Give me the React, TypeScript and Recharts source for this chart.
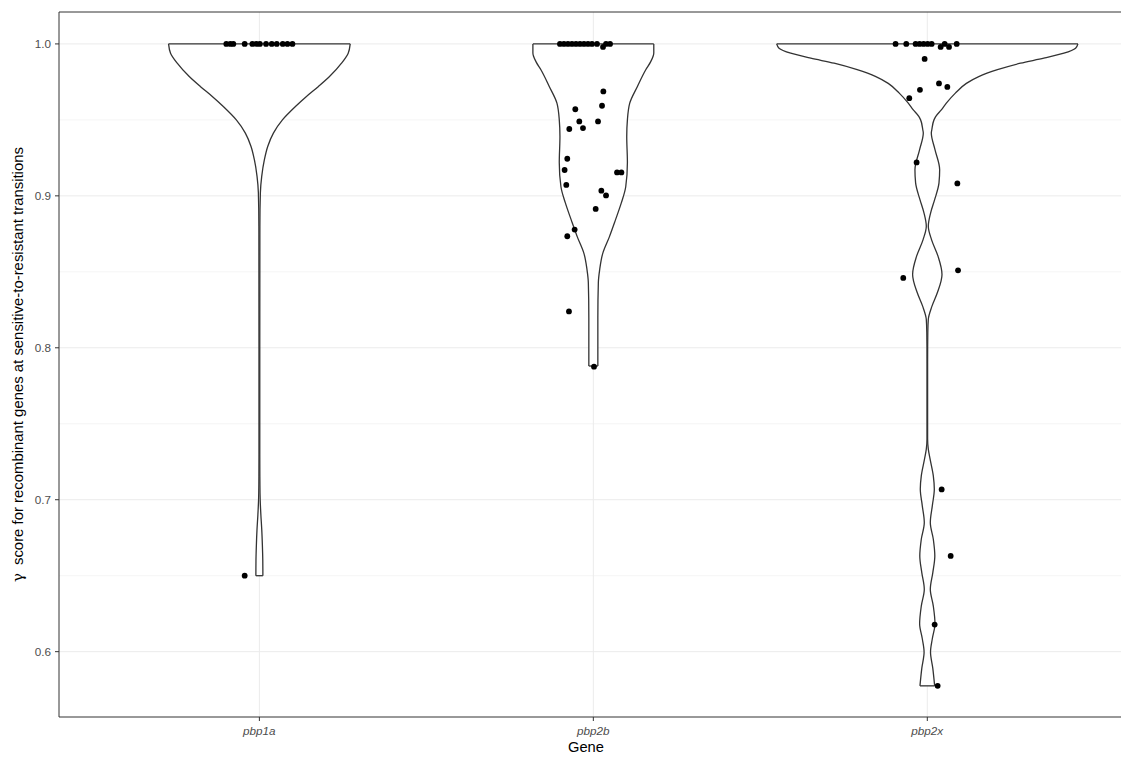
import React from "react";
import { ComposedChart, Scatter, XAxis, YAxis, CartesianGrid, ReferenceLine, Label } from "recharts";

const genes = ["pbp1a", "pbp2b", "pbp2x"];
const yTicks = [0.6, 0.7, 0.8, 0.9, 1.0];
const yMinor = [0.65, 0.75, 0.85, 0.95];

// violin outlines: score levels (top to bottom) and half-width in category units
const pbp1aLevels = [1.0, 0.9939, 0.9873, 0.9785, 0.972, 0.9654, 0.9588, 0.95, 0.9413, 0.9325, 0.9238, 0.9128, 0.902, 0.88, 0.8, 0.73, 0.71, 0.7, 0.69, 0.68, 0.67, 0.66, 0.65];
const pbp1aWidth = [0.272, 0.266, 0.246, 0.21, 0.177, 0.141, 0.108, 0.069, 0.042, 0.025, 0.015, 0.007, 0.003, 0.0015, 0.0012, 0.0012, 0.0016, 0.0024, 0.0045, 0.0072, 0.009, 0.0102, 0.0105];

const pbp2bLevels = [1.0, 0.994, 0.988, 0.983, 0.972, 0.961, 0.95, 0.939, 0.922, 0.906, 0.8955, 0.884, 0.873, 0.862, 0.8515, 0.843, 0.82, 0.788];
const pbp2bWidth = [0.181, 0.181, 0.171, 0.157, 0.132, 0.109, 0.102, 0.1, 0.102, 0.097, 0.084, 0.066, 0.048, 0.028, 0.019, 0.015, 0.0135, 0.0135];

const pbp2xLevels = [1.0, 0.9972, 0.9939, 0.9906, 0.9873, 0.983, 0.9785, 0.974, 0.9676, 0.961, 0.9566, 0.9522, 0.95, 0.9435, 0.9413, 0.9304, 0.9172, 0.9085, 0.8975, 0.8888, 0.88, 0.8712, 0.8603, 0.8483, 0.8362, 0.8274, 0.8187, 0.81, 0.79, 0.74, 0.7333, 0.7267, 0.7157, 0.707, 0.696, 0.685, 0.674, 0.663, 0.652, 0.641, 0.63, 0.6183, 0.6085, 0.5997, 0.589, 0.5775];
const pbp2xWidth = [0.451, 0.444, 0.409, 0.349, 0.279, 0.21, 0.154, 0.117, 0.084, 0.057, 0.042, 0.025, 0.02, 0.0135, 0.012, 0.023, 0.037, 0.035, 0.022, 0.01, 0.003, 0.0126, 0.032, 0.044, 0.03, 0.014, 0.003, 0.0015, 0.0009, 0.0009, 0.003, 0.0084, 0.018, 0.021, 0.015, 0.009, 0.018, 0.0225, 0.0165, 0.009, 0.018, 0.023, 0.015, 0.0096, 0.0165, 0.022];

// jittered observations
const pbp1aX = [0.901, 0.913, 0.922, 0.956, 0.979, 0.991, 1.0015, 1.02, 1.037, 1.052, 1.07, 1.084, 1.099, 0.956];
const pbp1aY = [1, 1, 1, 1, 1, 1, 1, 1, 1, 1, 1, 1, 1, 0.65];

const pbp2bX = [1.9, 1.912, 1.924, 1.936, 1.948, 1.96, 1.972, 1.984, 1.996, 2.011, 2.038, 2.05, 2.029, 2.03, 2.026, 1.946, 1.958, 2.014, 1.928, 1.969, 1.922, 1.914, 1.919, 2.071, 2.084, 2.024, 2.038, 2.007, 1.944, 1.922, 1.927, 2.002];
const pbp2bY = [1, 1, 1, 1, 1, 1, 1, 1, 1, 1, 1, 1, 0.998, 0.9687, 0.9593, 0.957, 0.949, 0.949, 0.944, 0.9446, 0.9244, 0.917, 0.9072, 0.9154, 0.9154, 0.9034, 0.9003, 0.8914, 0.8778, 0.8734, 0.8239, 0.7876];

const pbp2xX = [2.905, 2.937, 2.965, 2.977, 2.989, 3.001, 3.013, 3.04, 3.052, 3.065, 3.088, 2.992, 3.035, 3.06, 2.978, 2.946, 2.968, 3.09, 3.092, 2.928, 3.043, 3.07, 3.022, 3.031];
const pbp2xY = [1, 1, 1, 1, 1, 1, 1, 0.998, 1, 0.998, 1, 0.9901, 0.974, 0.9717, 0.9698, 0.9643, 0.922, 0.9082, 0.851, 0.846, 0.7068, 0.663, 0.6178, 0.5775];

const violins = [
  { center: 1, levels: pbp1aLevels, width: pbp1aWidth },
  { center: 2, levels: pbp2bLevels, width: pbp2bWidth },
  { center: 3, levels: pbp2xLevels, width: pbp2xWidth },
].map(({ center, levels, width }) => {
  const left = levels.map((y, i) => ({ x: center - width[i], y }));
  const right = levels.map((y, i) => ({ x: center + width[i], y }));
  const n = levels.length - 1;
  return {
    left,
    right,
    top: [left[0], right[0]],
    bottom: [left[n], right[n]],
    fill: [...left, ...right.slice().reverse(), left[0]],
  };
});

const points = [
  ...pbp1aX.map((x, i) => ({ x, y: pbp1aY[i] })),
  ...pbp2bX.map((x, i) => ({ x, y: pbp2bY[i] })),
  ...pbp2xX.map((x, i) => ({ x, y: pbp2xY[i] })),
];

const INK = "#333333";
const TEXT = "#4d4d4d";
const OUTLINE = { stroke: INK, strokeWidth: 1.3, fill: "none" };
const noDot = () => <g />;
const dot = (p: any) => <circle cx={p.cx} cy={p.cy} r={2.9} fill="#000" />;

const GeneTick = (props: any) => {
  const { x, y, payload } = props;
  return (
    <text x={x} y={y} dy={12} textAnchor="middle" fill={TEXT} fontSize={11.7} fontStyle="italic">
      {genes[payload.value - 1]}
    </text>
  );
};

export default function App() {
  return (
    <div style={{ position: "absolute", left: 0, top: 0, width: 1121, height: 758, overflow: "hidden", background: "#fff", fontFamily: "'Liberation Sans', Arial, sans-serif" }}>
      <ComposedChart width={1121} height={758} margin={{ top: 12, right: 0, left: 0, bottom: 0 }}>
        <CartesianGrid horizontalValues={yTicks} verticalValues={[1, 2, 3]} stroke="#ebebeb" strokeWidth={1} />
        <CartesianGrid horizontalValues={yMinor} vertical={false} stroke="#ebebeb" strokeWidth={0.55} />
        <XAxis
          dataKey="x"
          type="number"
          domain={[0.4, 3.58]}
          ticks={[1, 2, 3]}
          allowDataOverflow
          height={41}
          axisLine={{ stroke: INK }}
          tickLine={{ stroke: INK }}
          tickSize={4}
          tickMargin={2}
          tick={<GeneTick />}
        >
          <Label
            content={(p: any) => (
              <text x={p.viewBox.x + 527} y={p.viewBox.y + 35} textAnchor="middle" fill="#000" fontSize={14.7}>
                Gene
              </text>
            )}
          />
        </XAxis>
        <YAxis
          dataKey="y"
          type="number"
          domain={[0.557, 1.021]}
          ticks={yTicks}
          allowDataOverflow
          width={59}
          axisLine={{ stroke: INK }}
          tickLine={{ stroke: INK }}
          tickSize={4}
          tickMargin={4}
          tick={{ fill: TEXT, fontSize: 11.7 }}
          tickFormatter={(v: number) => v.toFixed(1)}
        >
          <Label
            content={(p: any) => {
              const cx = 18;
              const cy = p.viewBox.y + p.viewBox.height / 2;
              return (
                <text x={cx} y={cy} transform={`rotate(-90, ${cx}, ${cy})`} textAnchor="middle" dominantBaseline="central" fill="#000" fontSize={14.9}>
                  <tspan fontFamily="'DejaVu Serif', serif">γ</tspan>
                  <tspan dx={8}>score for recombinant genes at sensitive-to-resistant transitions</tspan>
                </text>
              );
            }}
          />
        </YAxis>
        <ReferenceLine y={1.021} stroke={INK} strokeWidth={1} ifOverflow="visible" />
        {violins.map((v, i) => (
          <Scatter key={`f${i}`} data={v.fill} dataKey="y" shape={noDot} line={{ fill: "#fff", stroke: "none" }} lineJointType="linear" isAnimationActive={false} />
        ))}
        {violins.map((v, i) => (
          <Scatter key={`l${i}`} data={v.left} dataKey="y" shape={noDot} line={OUTLINE} lineJointType="monotoneY" isAnimationActive={false} />
        ))}
        {violins.map((v, i) => (
          <Scatter key={`r${i}`} data={v.right} dataKey="y" shape={noDot} line={OUTLINE} lineJointType="monotoneY" isAnimationActive={false} />
        ))}
        {violins.map((v, i) => (
          <Scatter key={`t${i}`} data={v.top} dataKey="y" shape={noDot} line={OUTLINE} lineJointType="linear" isAnimationActive={false} />
        ))}
        {violins.map((v, i) => (
          <Scatter key={`b${i}`} data={v.bottom} dataKey="y" shape={noDot} line={OUTLINE} lineJointType="linear" isAnimationActive={false} />
        ))}
        <Scatter data={points} dataKey="y" fill="#000" shape={dot} isAnimationActive={false} />
      </ComposedChart>
    </div>
  );
}
